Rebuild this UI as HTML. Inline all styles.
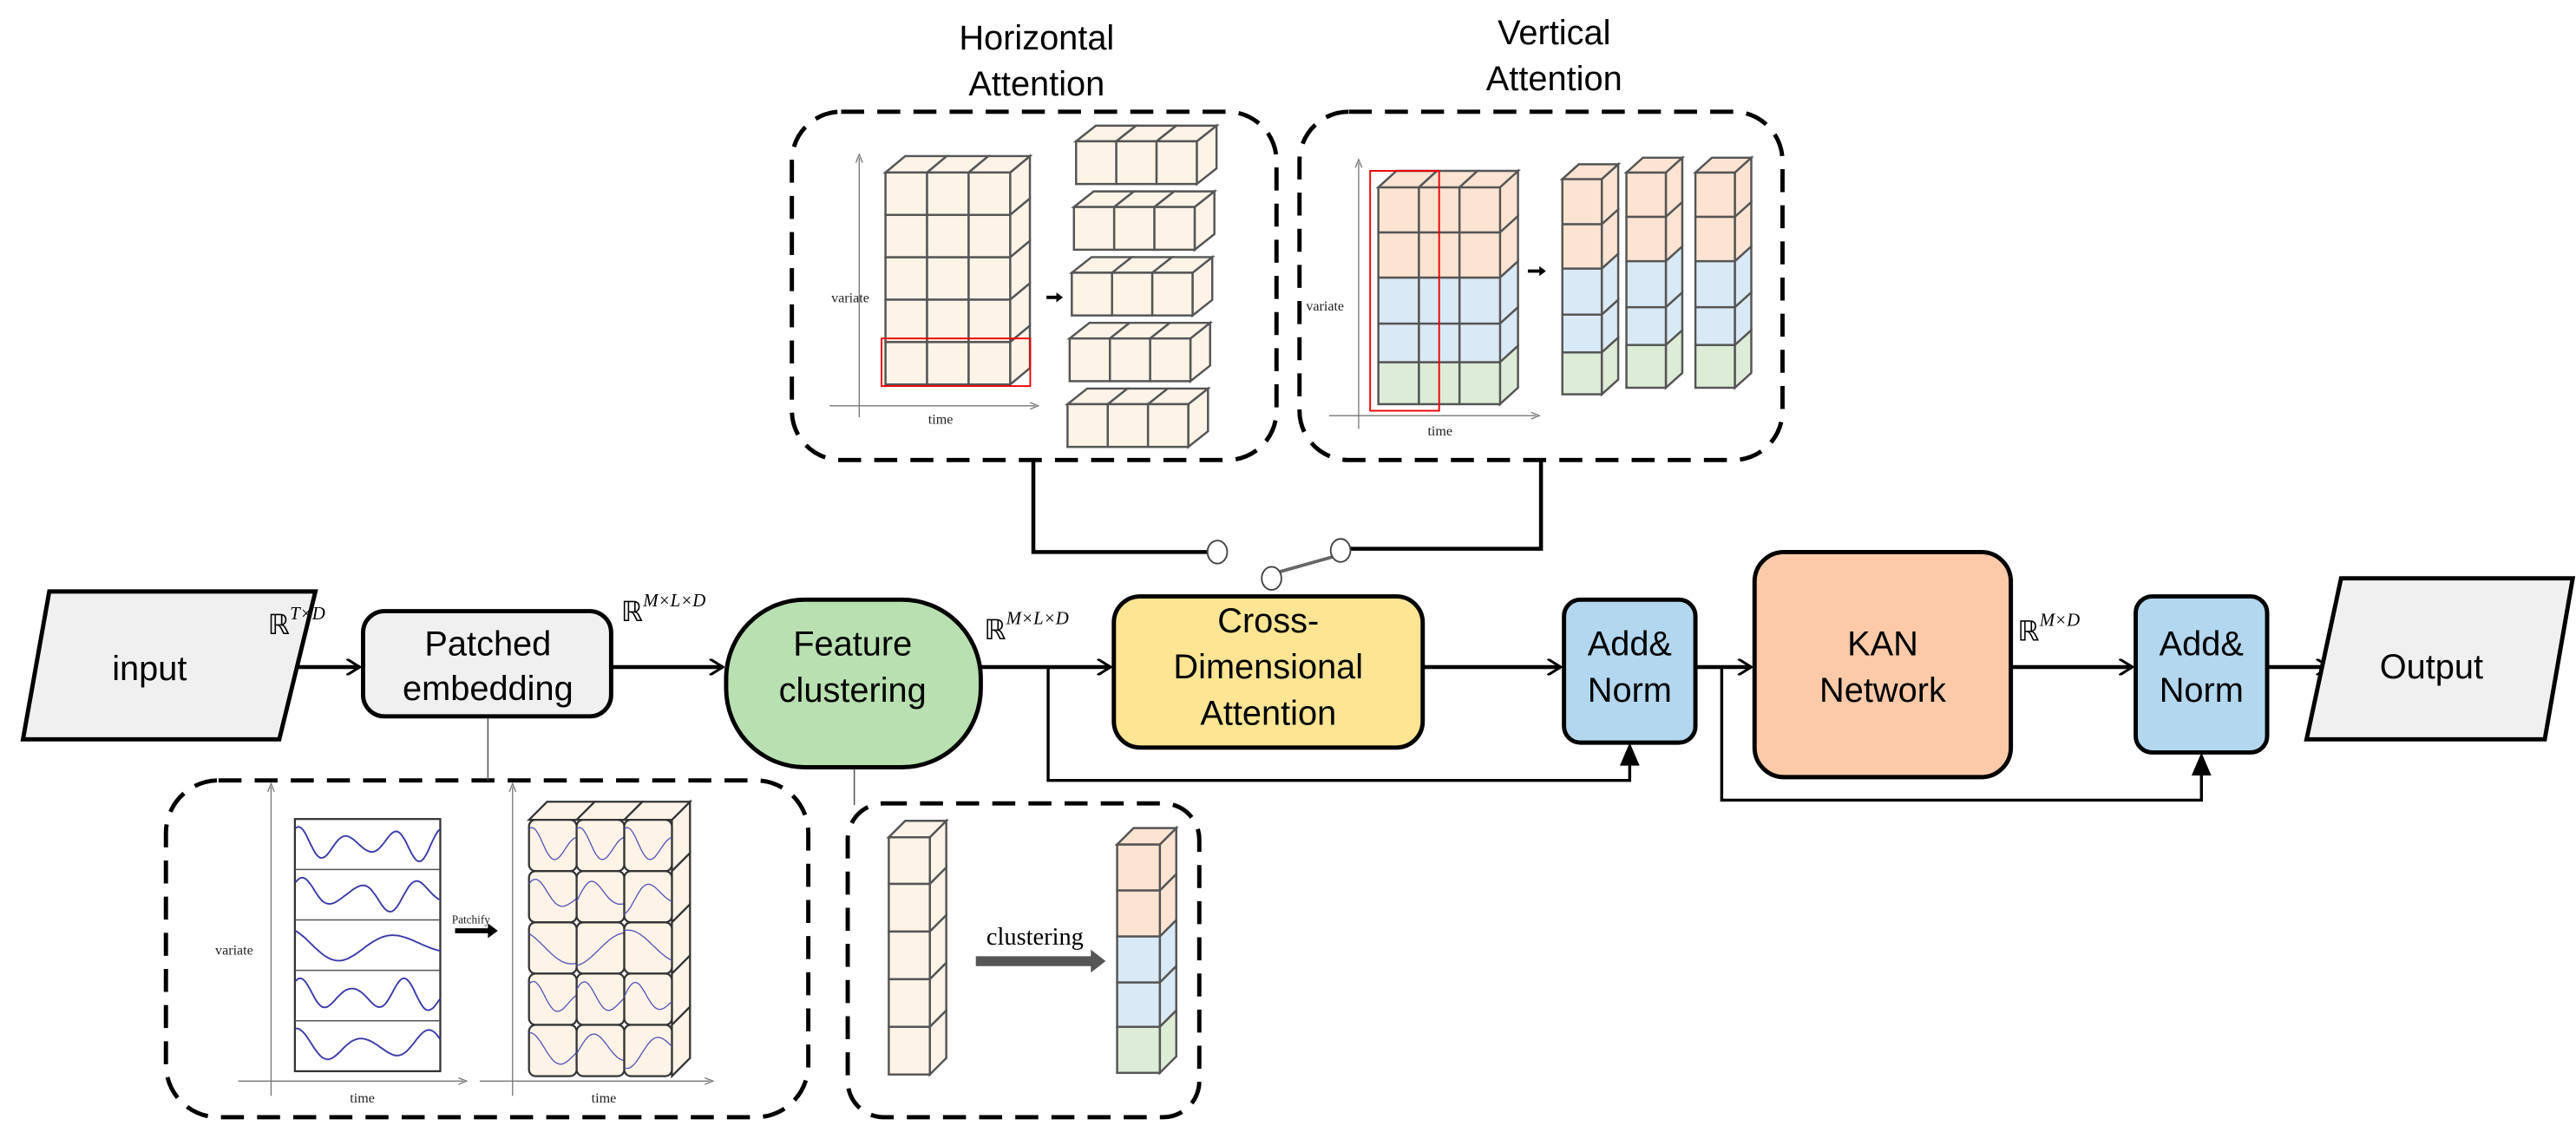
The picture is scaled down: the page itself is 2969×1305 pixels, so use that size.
<!DOCTYPE html>
<html><head><meta charset="utf-8"><style>
html,body{margin:0;padding:0;background:#fff}
svg{display:block}
text{font-family:"Liberation Sans Narrow","Liberation Sans",sans-serif}
.s text,text.s,.s tspan{font-family:"Liberation Serif",serif}
</style></head><body>
<svg id="g" width="2969" height="1305" viewBox="0 0 1568 689" preserveAspectRatio="none" xmlns="http://www.w3.org/2000/svg">
<defs>
<marker id="ah" markerWidth="10" markerHeight="10" refX="9" refY="5" orient="auto" markerUnits="userSpaceOnUse"><path d="M1,0 L9,5 L1,10" fill="none" stroke="#000" stroke-width="1.6"/></marker>
</defs>
<g id="cubes"></g>
<text x="631" y="30" font-size="21" text-anchor="middle">Horizontal</text>
<text x="631" y="58" font-size="21" text-anchor="middle">Attention</text>
<text x="946" y="27" font-size="21" text-anchor="middle">Vertical</text>
<text x="946" y="55" font-size="21" text-anchor="middle">Attention</text>
<g fill="none" stroke="#000" stroke-width="2.6" stroke-dasharray="14,8">
<rect x="482" y="68" width="295" height="212" rx="30"/>
<rect x="791" y="68" width="294" height="212" rx="30"/>
<rect x="101" y="475" width="391" height="205" rx="32"/>
<rect x="516" y="489" width="214" height="191" rx="22"/>
</g>
<g fill="none" stroke="#000" stroke-width="2.4">
<polyline points="629,280 629,336 735,336"/>
<polyline points="938,280 938,334 822,334"/>
</g>
<line x1="779" y1="348" x2="811" y2="339" stroke="#666" stroke-width="2"/>
<g fill="#fff" stroke="#444" stroke-width="1">
<ellipse cx="741" cy="336" rx="6" ry="7"/>
<ellipse cx="816" cy="335" rx="6" ry="7"/>
<ellipse cx="774" cy="352" rx="6" ry="7"/>
</g>
<line x1="297" y1="436" x2="297" y2="475" stroke="#555" stroke-width="0.8"/>
<line x1="520" y1="467" x2="520" y2="490" stroke="#555" stroke-width="0.8"/>
<g fill="none" stroke="#000" stroke-width="2.4">
<line x1="180" y1="406" x2="219" y2="406" marker-end="url(#ah)"/>
<line x1="372" y1="406" x2="440" y2="406" marker-end="url(#ah)"/>
<line x1="597" y1="406" x2="676" y2="406" marker-end="url(#ah)"/>
<line x1="866" y1="406" x2="950" y2="406" marker-end="url(#ah)"/>
<line x1="1032" y1="406" x2="1066" y2="406" marker-end="url(#ah)"/>
<line x1="1224" y1="406" x2="1298" y2="406" marker-end="url(#ah)"/>
<line x1="1380" y1="406" x2="1418" y2="406" marker-end="url(#ah)"/>
</g>
<g fill="none" stroke="#000" stroke-width="1.8">
<polyline points="638,406 638,475 992,475 992,462"/>
<polyline points="1048,406 1048,487 1340,487 1340,470"/>
</g>
<path d="M992,452 L998,466 L986,466 Z" fill="#000"/>
<path d="M1340,458 L1346,472 L1334,472 Z" fill="#000"/>
<g stroke="#000" stroke-width="2.6">
<polygon points="30,360 192,360 170,450 14,450" fill="#f0f0f0"/>
<rect x="221" y="372" width="151" height="64" rx="13" fill="#f0f0f0"/>
<rect x="442" y="365" width="155" height="102" rx="48" fill="#b9e0b0"/>
<rect x="678" y="363" width="188" height="92" rx="16" fill="#fde593"/>
<rect x="952" y="365" width="80" height="87" rx="10" fill="#b3d7ef"/>
<rect x="1068" y="336" width="156" height="137" rx="18" fill="#fccaa8"/>
<rect x="1300" y="363" width="80" height="95" rx="10" fill="#b3d7ef"/>
<polygon points="1425,352 1566,352 1549,450 1404,450" fill="#f0f0f0"/>
</g>
<g font-size="21" text-anchor="middle">
<text x="91" y="414">input</text>
<text x="297" y="399">Patched</text>
<text x="297" y="426">embedding</text>
<text x="519" y="399">Feature</text>
<text x="519" y="427">clustering</text>
<text x="772" y="385">Cross-</text>
<text x="772" y="413">Dimensional</text>
<text x="772" y="441">Attention</text>
<text x="992" y="399">Add&amp;</text>
<text x="992" y="427">Norm</text>
<text x="1146" y="399">KAN</text>
<text x="1146" y="427">Network</text>
<text x="1340" y="399">Add&amp;</text>
<text x="1340" y="427">Norm</text>
<text x="1480" y="413">Output</text>
</g>
<g class="s" font-size="17">
<text x="163" y="386">ℝ<tspan font-size="11" font-style="italic" dy="-9">T×D</tspan></text>
<text x="378" y="378">ℝ<tspan font-size="11" font-style="italic" dy="-9">M×L×D</tspan></text>
<text x="599" y="389">ℝ<tspan font-size="11" font-style="italic" dy="-9">M×L×D</tspan></text>
<text x="1228" y="390">ℝ<tspan font-size="11" font-style="italic" dy="-9">M×D</tspan></text>
</g>
<g class="s" font-size="8.5" fill="#222">
<text x="506" y="184">variate</text>
<text x="565" y="258">time</text>
<text x="795" y="189">variate</text>
<text x="869" y="265">time</text>
<text x="131" y="581">variate</text>
<text x="213" y="671">time</text>
<text x="360" y="671">time</text>
<text x="275" y="562" font-size="7">Patchify</text>
</g>
<text class="s" x="630" y="575" font-size="15" text-anchor="middle">clustering</text>
<path d="M594,582 L664,582 L664,578 L673,585 L664,592 L664,588 L594,588 Z" fill="#555"/>
<path d="M277,565 L297,565 L297,562 L303,566.5 L297,571 L297,568 L277,568 Z" fill="#000"/>
<path d="M637,180 L643,180 L643,178 L647,181 L643,184 L643,182 L637,182 Z" fill="#000"/>
<path d="M930,164 L937,164 L937,162 L941,165 L937,168 L937,166 L930,166 Z" fill="#000"/>
<g stroke="#777" stroke-width="0.7" fill="none">
<line x1="523" y1="254" x2="523" y2="96"/><path d="M521,99 L523,94 L525,99"/>
<line x1="505" y1="247" x2="630" y2="247"/><path d="M627,245 L632,247 L627,249"/>
<line x1="827" y1="261" x2="827" y2="99"/><path d="M825,102 L827,97 L829,102"/>
<line x1="809" y1="253" x2="935" y2="253"/><path d="M932,251 L937,253 L932,255"/>
<line x1="165" y1="667" x2="165" y2="479"/><path d="M163,482 L165,477 L167,482"/>
<line x1="145" y1="658" x2="282" y2="658"/><path d="M279,656 L284,658 L279,660"/>
<line x1="312" y1="667" x2="312" y2="479"/><path d="M310,482 L312,477 L314,482"/>
<line x1="292" y1="658" x2="432" y2="658"/><path d="M429,656 L434,658 L429,660"/>
</g>
<g id="over"></g>
</svg>
<script>
var NS="http://www.w3.org/2000/svg",G=document.getElementById("cubes"),O=document.getElementById("over");
function el(t,a,p){var e=document.createElementNS(NS,t);for(var k in a)e.setAttribute(k,a[k]);(p||G).appendChild(e);return e;}
var C={c:"#fdf3e7",o:"#fde3d2",b:"#d9e9f5",g:"#dcecd7"};
function grid(x,y,cols,rows,cw,rh,dx,dy){
 var W=cols*cw,st={stroke:"#555","stroke-width":1.3};
 for(var r=0;r<rows.length;r++){var yy=y+r*rh;
  el("polygon",Object.assign({points:(x+W)+","+yy+" "+(x+W+dx)+","+(yy-dy)+" "+(x+W+dx)+","+(yy+rh-dy)+" "+(x+W)+","+(yy+rh),fill:C[rows[r]]},st));}
 for(var c=0;c<cols;c++){var xx=x+c*cw;
  el("polygon",Object.assign({points:xx+","+y+" "+(xx+dx)+","+(y-dy)+" "+(xx+cw+dx)+","+(y-dy)+" "+(xx+cw)+","+y,fill:C[rows[0]]},st));}
 for(var r=0;r<rows.length;r++)for(var c=0;c<cols;c++)
  el("rect",Object.assign({x:x+c*cw,y:y+r*rh,width:cw,height:rh,fill:C[rows[r]]},st));
}
grid(539,105,3,["c","c","c","c","c"],25.3,25.8,12,10);
el("rect",{x:536.6,y:206,width:90.5,height:29,fill:"none",stroke:"#e00","stroke-width":1},O);
[86,126,166,206,246].forEach(function(y,i){grid(655-i*1.3,y,3,["c"],24.5,26,12,9.5);});
var vb=[114,141.5,169,197,220.5,246];
(function(){var x=839,cw=24.7,dx=11,dy=10,st={stroke:"#555","stroke-width":1.3},cols=["o","o","b","b","g"];
 for(var r=0;r<5;r++){var y=vb[r],h=vb[r+1]-vb[r];
  el("polygon",Object.assign({points:(x+74)+","+y+" "+(x+74+dx)+","+(y-dy)+" "+(x+74+dx)+","+(y+h-dy)+" "+(x+74)+","+(y+h),fill:C[cols[r]]},st));
  for(var c=0;c<3;c++)el("rect",Object.assign({x:x+c*cw,y:y,width:cw,height:h,fill:C[cols[r]]},st));}
 for(var c=0;c<3;c++){var xx=x+c*cw;el("polygon",Object.assign({points:xx+",114 "+(xx+dx)+",104 "+(xx+cw+dx)+",104 "+(xx+cw)+",114",fill:C.o},st));}
})();
el("rect",{x:834,y:104,width:42,height:146,fill:"none",stroke:"#e00","stroke-width":1},O);
function col(x,ys,cols,w,dx,dy){var st={stroke:"#555","stroke-width":1.3};
 for(var r=0;r<cols.length;r++){var y=ys[r],h=ys[r+1]-ys[r];
  el("polygon",Object.assign({points:(x+w)+","+y+" "+(x+w+dx)+","+(y-dy)+" "+(x+w+dx)+","+(y+h-dy)+" "+(x+w)+","+(y+h),fill:C[cols[r]]},st));
  el("rect",Object.assign({x:x,y:y,width:w,height:h,fill:C[cols[r]]},st));}
 el("polygon",Object.assign({points:x+","+ys[0]+" "+(x+dx)+","+(ys[0]-dy)+" "+(x+w+dx)+","+(ys[0]-dy)+" "+(x+w)+","+ys[0],fill:C[cols[0]]},st));}
col(951,[109,136.5,163.5,191.5,214.5,240],["o","o","b","b","g"],24,10,9);
col(990,[105,132,159,187,210,236],["o","o","b","b","g"],24,10,9);
col(1032,[105,132,159,187,210,236],["o","o","b","b","g"],24,10,9);
col(541,[509.6,538,567,596,625,654],["c","c","c","c","c"],25,10,10);
col(680,[514,542,570,598,625,653],["o","o","b","b","g"],26,10,10);
el("rect",{x:179.5,y:498.5,width:88.5,height:153.5,fill:"#fff",stroke:"#333","stroke-width":1.2});
var rh=30.7;
function wave(x0,y0,w,h,k){var d="";for(var i=0;i<=60;i++){var t=i/60,xx=x0+t*w,yy=y0+h/2-h*0.4*Math.sin(t*Math.PI*2*k[0]+k[1])*(0.7+0.3*Math.cos(t*k[2]));d+=(i?"L":"M")+xx.toFixed(1)+","+yy.toFixed(1);}return d;}
var ks=[[3,1.2,7],[2.5,0.8,9],[1.3,2.2,3],[2.8,1,8],[2.2,1.5,6]];
for(var r=0;r<5;r++){var y=498.5+r*rh;if(r)el("line",{x1:179.5,y1:y,x2:268,y2:y,stroke:"#555","stroke-width":0.8});
 el("path",{d:wave(180,y+2,88,rh-4,ks[r]),fill:"none",stroke:"#3a3aa8","stroke-width":1});}
(function(){var x=322,y=499,cw=29,rh2=31.2,dx=11,dy=11,st={stroke:"#333","stroke-width":1.2};
 for(var r=0;r<5;r++){var yy=y+r*rh2;el("polygon",Object.assign({points:(x+87)+","+yy+" "+(x+87+dx)+","+(yy-dy)+" "+(x+87+dx)+","+(yy+rh2-dy)+" "+(x+87)+","+(yy+rh2),fill:C.c},st));}
 for(var c=0;c<3;c++){var xx=x+c*cw;el("polygon",Object.assign({points:xx+","+y+" "+(xx+dx)+","+(y-dy)+" "+(xx+cw+dx)+","+(y-dy)+" "+(xx+cw)+","+y,fill:C.c},st));}
 for(var r=0;r<5;r++)for(var c=0;c<3;c++){el("rect",Object.assign({x:x+c*cw,y:y+r*rh2,width:cw,height:rh2,rx:4,fill:C.c},st));
  var k=ks[r];el("path",{d:wave(x+c*cw,y+r*rh2+2,cw,rh2-4,[k[0]/3,k[1]+c*k[0]*2.09,k[2]/3]),fill:"none",stroke:"#5555bb","stroke-width":0.7});}
})();
</script>
</body></html>
